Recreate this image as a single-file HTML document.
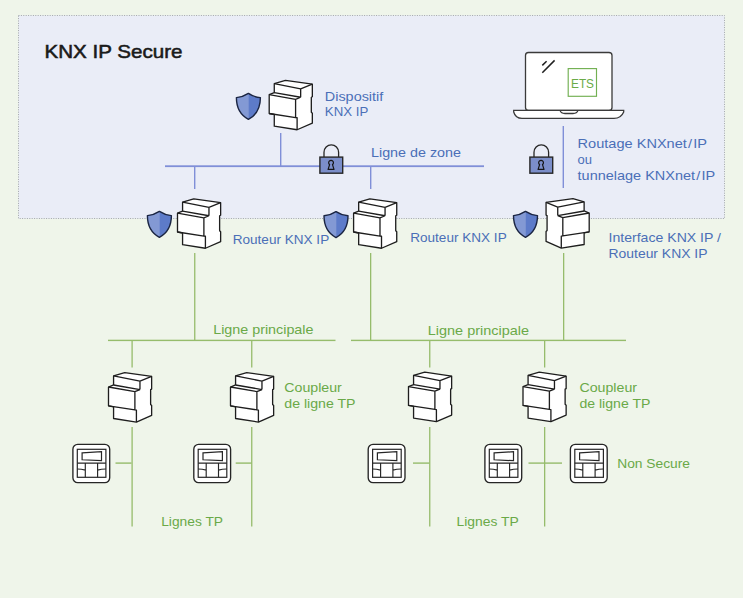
<!DOCTYPE html>
<html><head><meta charset="utf-8">
<style>
html,body{margin:0;padding:0;}
body{width:743px;height:598px;overflow:hidden;background:#eff5ea;}
svg{position:absolute;left:0;top:0;}
text{font-family:"Liberation Sans",sans-serif;}
.b{fill:#4b6fb7;font-size:13px;}
.g{fill:#6aa948;font-size:13px;}
</style></head><body>
<svg width="743" height="598" viewBox="0 0 743 598">
<defs>
<g id="dev" transform="scale(1.015)" fill="#fff" stroke="#1e1e1e" stroke-width="1.3" stroke-linejoin="round">
  <path d="M16,0 L42.5,3.8 L42.5,16.2 L41.5,16.7 L41.5,31.5 L42.5,32.5 L42.5,42.2 L27.5,48.7 L5,45.2 L5,33.7 L0,32.7 L0,14.2 L5,12.2 L5,3.2 Z"/>
  <path fill="none" d="M5,3.2 L31,8.4 L42.5,3.8 M31,8.4 L31,16.7 M5,12.2 L31,16.7 M0,14.2 L26,18.7 L31,16.7 M26,18.7 L26,36.7 M0,32.7 L26,36.7 L27.5,36.9 L27.5,48.7"/>
</g>
<g id="shield" stroke="none">
  <path fill="#5d7bc9" d="M12,0 Q18,3.9 24,4.2 C24,14 20.5,21.5 12,26 C3.5,21.5 0,14 0,4.2 Q6,3.9 12,0 Z"/>
  <path fill="#8399d4" d="M12.3,0 Q6,3.9 0,4.2 C0,14 3.5,21.5 12.3,26 Z"/>
  <path fill="none" stroke="#1b2542" stroke-width="1.4" stroke-linejoin="round" d="M12,0 Q6,3.9 0,4.2 C0,14 3.5,21.5 12,26 C20.5,21.5 24,14 24,4.2 Q18,3.9 12,0 Z"/>
</g>
<g id="lock">
  <path fill="none" stroke="#262626" stroke-width="1.3" d="M5,12.6 L5,7.8 A7.3,7.4 0 0 1 19.6,7.8 L19.6,12.6"/>
  <rect x="0.9" y="12.6" width="22.8" height="16.1" fill="#7b8ec9" stroke="#262626" stroke-width="1.4"/>
  <path fill="none" stroke="#151515" stroke-width="1.2" stroke-linejoin="round" d="M10.6,20.1 A2.4,2.4 0 1 1 13.5,20.1 L15,24.9 L9.1,24.9 Z"/>
</g>
<g id="pad" fill="none" stroke="#262626">
  <rect x="0.6" y="0.6" width="36.8" height="38.2" rx="4.8" fill="#fff" stroke-width="1.35"/>
  <rect x="5" y="5.5" width="28.6" height="28" stroke-width="1.2"/>
  <path stroke-width="1.2" d="M9.8,9.1 L29.2,7.9 L29.2,16.9 L9.8,16 Z"/>
  <path stroke-width="1.15" d="M5,19.3 L33.6,19.3 M13,19.3 L13,33.5 M25.3,19.3 L25.3,33.5 M5,25.2 Q9,25.3 13,26.3 M25.3,26.3 Q29,25.3 33.6,25.2"/>
</g>
</defs>

<!-- secure zone -->
<rect x="18.5" y="15.5" width="706" height="203" fill="#eaedf7" stroke="#a3a6ac" stroke-width="1" stroke-dasharray="1,1.4"/>

<text x="44.5" y="57.8" style="font-size:19px;fill:#1a1a1a;stroke:#1a1a1a;stroke-width:0.55px" textLength="138" lengthAdjust="spacingAndGlyphs">KNX IP Secure</text>

<!-- blue lines -->
<g fill="#808fd8">
  <rect x="165" y="165.3" width="319" height="1.8"/>
  <rect x="194" y="166" width="1.4" height="23"/>
  <rect x="280" y="133" width="1.4" height="33"/>
  <rect x="370" y="166" width="1.4" height="23"/>
  <rect x="562.6" y="126" width="1.4" height="62"/>
</g>

<!-- green lines -->
<g fill="#96bc6c">
  <rect x="108.00" y="339.70" width="227.50" height="1.40"/>
  <rect x="351.00" y="339.70" width="275.00" height="1.40"/>
  <rect x="194.10" y="253.00" width="1.30" height="88.00"/>
  <rect x="370.00" y="253.00" width="1.30" height="88.00"/>
  <rect x="563.00" y="253.00" width="1.30" height="88.00"/>
  <rect x="131.45" y="340.00" width="1.30" height="27.50"/>
  <rect x="251.10" y="340.00" width="1.30" height="27.50"/>
  <rect x="429.10" y="340.00" width="1.30" height="27.50"/>
  <rect x="544.00" y="340.00" width="1.30" height="27.50"/>
  <rect x="131.45" y="427.00" width="1.30" height="99.50"/>
  <rect x="251.10" y="427.00" width="1.30" height="99.50"/>
  <rect x="429.10" y="427.00" width="1.30" height="99.50"/>
  <rect x="544.00" y="427.00" width="1.30" height="99.50"/>
  <rect x="115.50" y="462.40" width="16.00" height="1.40"/>
  <rect x="235.70" y="462.40" width="16.00" height="1.40"/>
  <rect x="413.00" y="462.40" width="16.50" height="1.40"/>
  <rect x="528.50" y="462.40" width="33.50" height="1.40"/>
</g>

<!-- laptop -->
<g stroke="#3a3a3a" stroke-width="1.3" fill="#fff">
  <rect x="525.5" y="52.5" width="86.5" height="58" rx="3"/>
  <path d="M513.7,110.4 L623.7,110.4 L623.7,112 Q621,118.4 614,118.4 L522,118.4 Q515.5,118.4 513.7,112 Z"/>
  <path fill="none" d="M560,110.4 Q561,113.5 565,113.5 L573,113.5 Q577,113.5 578,110.4"/>
  <path fill="none" stroke="#202020" stroke-width="1.5" d="M542.3,65.4 L546.6,61.2 M542.3,72.8 L554.6,60.4"/>
</g>
<rect x="568.2" y="68.6" width="28.3" height="27.7" fill="none" stroke="#72b052" stroke-width="1.15"/>
<text x="571" y="87.8" style="font-size:13px;fill:#6aab48" textLength="23" lengthAdjust="spacingAndGlyphs">ETS</text>

<!-- locks -->
<use href="#lock" x="319" y="144.5"/>
<use href="#lock" x="529" y="144.5"/>

<!-- shields -->
<use href="#shield" x="236.4" y="93.4"/>
<use href="#shield" x="147.4" y="211.4"/>
<use href="#shield" x="324" y="211.6"/>
<use href="#shield" x="513.5" y="211.4"/>

<!-- devices -->
<use href="#dev" x="269.2" y="80.3"/>
<use href="#dev" x="177.5" y="198.8"/>
<use href="#dev" x="353.6" y="198.8"/>
<use href="#dev" transform="translate(589.2,198.6) scale(-1,1)"/>
<use href="#dev" x="108.5" y="372.6"/>
<use href="#dev" x="230.5" y="372.6"/>
<use href="#dev" x="408.5" y="372.2"/>
<use href="#dev" x="523" y="372.2"/>

<!-- pads -->
<use href="#pad" x="72.3" y="443.8"/>
<use href="#pad" x="193.2" y="443.8"/>
<use href="#pad" x="367.6" y="443.8"/>
<use href="#pad" x="484.3" y="443.8"/>
<use href="#pad" x="569.8" y="443.8"/>

<!-- blue labels -->
<text class="b" x="324.8" y="100.5" textLength="58.5" lengthAdjust="spacingAndGlyphs">Dispositif</text>
<text class="b" x="324.8" y="116.3" textLength="43.5" lengthAdjust="spacingAndGlyphs">KNX IP</text>
<text class="b" x="371" y="157" textLength="90" lengthAdjust="spacingAndGlyphs">Ligne de zone</text>
<text class="b" x="577.6" y="147.8" textLength="129.5" lengthAdjust="spacingAndGlyphs">Routage KNXnet&#8202;/&#8202;IP</text>
<text class="b" x="577.6" y="163.7">ou</text>
<text class="b" x="577.6" y="179.8" textLength="137.5" lengthAdjust="spacingAndGlyphs">tunnelage KNXnet&#8202;/&#8202;IP</text>
<text class="b" x="232.7" y="243.6" textLength="96.5" lengthAdjust="spacingAndGlyphs">Routeur KNX IP</text>
<text class="b" x="410.2" y="241.8" textLength="96.5" lengthAdjust="spacingAndGlyphs">Routeur KNX IP</text>
<text class="b" x="608.5" y="242.1" textLength="112.5" lengthAdjust="spacingAndGlyphs">Interface KNX IP /</text>
<text class="b" x="608.5" y="257.9" textLength="99" lengthAdjust="spacingAndGlyphs">Routeur KNX IP</text>

<!-- green labels -->
<text class="g" x="213.2" y="334.4" textLength="100.3" lengthAdjust="spacingAndGlyphs">Ligne principale</text>
<text class="g" x="427.8" y="334.6" textLength="101.2" lengthAdjust="spacingAndGlyphs">Ligne principale</text>
<text class="g" x="284.3" y="391.8" textLength="57.5" lengthAdjust="spacingAndGlyphs">Coupleur</text>
<text class="g" x="284.3" y="407.5" textLength="71.2" lengthAdjust="spacingAndGlyphs">de ligne TP</text>
<text class="g" x="579.4" y="392" textLength="57.7" lengthAdjust="spacingAndGlyphs">Coupleur</text>
<text class="g" x="579.4" y="407.7" textLength="71" lengthAdjust="spacingAndGlyphs">de ligne TP</text>
<text class="g" x="617.2" y="467.8" textLength="72.8" lengthAdjust="spacingAndGlyphs">Non Secure</text>
<text class="g" x="161.2" y="526.3" textLength="61.8" lengthAdjust="spacingAndGlyphs">Lignes TP</text>
<text class="g" x="456.5" y="526.1" textLength="62.2" lengthAdjust="spacingAndGlyphs">Lignes TP</text>
</svg>
</body></html>
